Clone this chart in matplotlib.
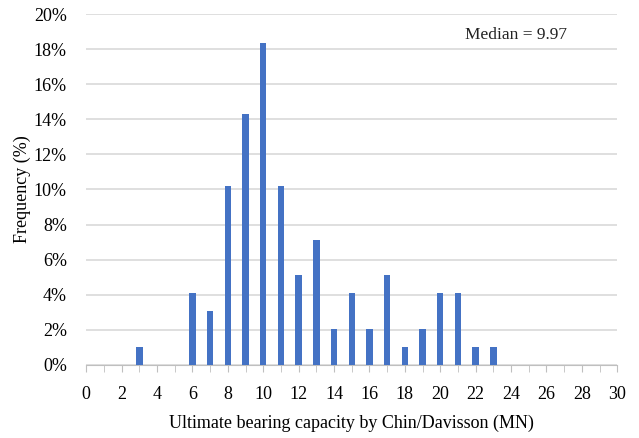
import matplotlib.pyplot as plt
import numpy as np
from matplotlib.ticker import FuncFormatter, MultipleLocator

# capacity bins (MN) and share of piles in each bin (%)
capacity = [3, 6, 7, 8, 9, 10, 11, 12, 13, 14, 15, 16, 17, 18, 19, 20, 21, 22, 23]
frequency = [1.02, 4.08, 3.06, 10.20, 14.29, 18.37, 10.20, 5.10, 7.14, 2.04,
             4.08, 2.04, 5.10, 1.02, 2.04, 4.08, 4.08, 1.02, 1.02]
median_value = 9.97

plt.rcParams['font.family'] = ['Liberation Serif', 'DejaVu Serif']

fig = plt.figure(figsize=(6.39, 4.38), dpi=100)
ax = fig.add_axes([0.135, 0.167, 0.831, 0.801])

ax.bar(capacity, frequency, width=0.36, color='#4472C4', zorder=3)

ax.set_xlim(0, 30)
ax.set_ylim(0, 20)
ax.xaxis.set_major_locator(MultipleLocator(2))
ax.xaxis.set_minor_locator(MultipleLocator(1))
ax.yaxis.set_major_locator(MultipleLocator(2))
ax.yaxis.set_major_formatter(FuncFormatter(lambda v, p: '%d%%' % v))

ax.grid(axis='y', color='#d9d9d9', lw=1.2, zorder=0)
for s in ['top', 'right', 'left']:
    ax.spines[s].set_visible(False)
ax.spines['bottom'].set_color('#bfbfbf')
ax.tick_params(axis='y', length=0, labelsize=13, pad=14)
ax.tick_params(axis='x', which='both', direction='out', color='#bfbfbf',
               labelsize=13, pad=10.5)
ax.tick_params(axis='x', which='major', length=5)
ax.tick_params(axis='x', which='minor', length=5)

ax.set_xlabel('Ultimate bearing capacity by Chin/Davisson (MN)', fontsize=13, labelpad=8)
ax.set_ylabel('Frequency (%)', fontsize=13, labelpad=2)

ax.text(21.4, 18.8, 'Median = %.2f' % median_value, fontsize=12.5,
        color='#222222', va='center')

fig.savefig('out.png', dpi=100)
